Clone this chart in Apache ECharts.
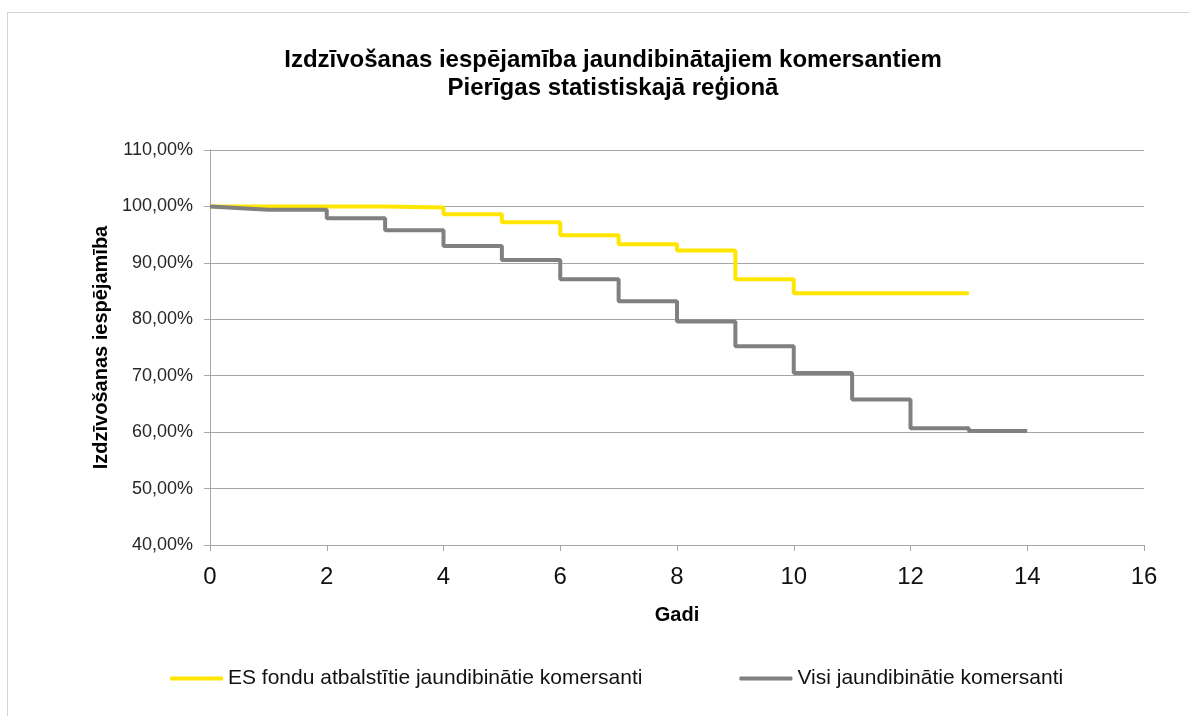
<!DOCTYPE html>
<html>
<head>
<meta charset="utf-8">
<script src="https://cdn.jsdelivr.net/npm/echarts@6/dist/echarts.min.js"></script>
<style>
    html, body { margin: 0; padding: 0; background: #fff; }
    .frame {
        position: absolute;
        left: 7px;
        top: 12px;
        width: 1300px;
        height: 800px;
        border: 1px solid #d4d4d4;
    }
    #chart { position: absolute; left: 0; top: 0; width: 1189px; height: 716px; }
</style>
</head>
<body>
<div class="frame"></div>
<div id="chart"></div>
<script>
// gadi (0..14)
var years = [0, 1, 2, 3, 4, 5, 6, 7, 8, 9, 10, 11, 12, 13, 14];
// ES fondu atbalstītie jaundibinātie komersanti, %, gadi 0..13
var esFondi = [100, 100, 100, 99.8, 98.6, 97.2, 94.9, 93.3, 92.2, 87.1, 84.6, 84.6, 84.6, 84.6];
// Visi jaundibinātie komersanti, %, gadi 0..14
var visi = [100, 99.4, 97.9, 95.8, 93.0, 90.5, 87.1, 83.2, 79.6, 75.2, 70.5, 65.8, 60.7, 60.2, 60.2];
var seriesNames = ['ES fondu atbalstītie jaundibinātie komersanti', 'Visi jaundibinātie komersanti'];
var yTicks = [40, 50, 60, 70, 80, 90, 100, 110];

// Excel scatter-style steps: first segment straight, then flat + vertical drop
function steps(vals) {
    var pts = [[years[0], vals[0]], [years[1], vals[1]]];
    for (var i = 2; i < vals.length; i++) {
        pts.push([years[i], vals[i - 1]]);
        pts.push([years[i], vals[i]]);
    }
    return pts;
}

var font = '"Liberation Sans", Arial, sans-serif';
var chart = echarts.init(document.getElementById('chart'));
var option = {
    animation: false,
    textStyle: { fontFamily: font },
    color: ['#FFE600', '#808080'],
    title: {
        text: 'Izdzīvošanas iespējamība jaundibinātajiem komersantiem\nPierīgas statistiskajā reģionā',
        left: 613,
        top: 46,
        padding: 0,
        textAlign: 'center',
        textStyle: {
            fontFamily: font,
            fontSize: 24,
            fontWeight: 'bold',
            color: '#000',
            lineHeight: 28
        }
    },
    legend: {
        left: 170,
        top: 668,
        padding: 0,
        itemWidth: 53,
        itemHeight: 4,
        itemGap: 97,
        icon: 'roundRect',
        data: seriesNames,
        textStyle: { fontFamily: font, fontSize: 21, color: '#111' }
    },
    grid: {
        left: 210,
        right: 45,
        top: 150,
        bottom: 171,
        containLabel: false
    },
    xAxis: {
        type: 'value',
        min: 0,
        max: 16,
        interval: 2,
        name: 'Gadi',
        nameLocation: 'middle',
        nameGap: 60,
        nameTextStyle: { fontFamily: font, fontSize: 20, fontWeight: 'bold', color: '#000' },
        axisLine: { show: true, lineStyle: { color: '#a6a6a6', width: 1 } },
        axisTick: { show: true, length: 6, lineStyle: { color: '#a6a6a6' } },
        axisLabel: { margin: 20, fontSize: 24, color: '#111', fontFamily: font },
        splitLine: { show: false }
    },
    yAxis: {
        type: 'value',
        min: yTicks[0],
        max: yTicks[yTicks.length - 1],
        interval: 10,
        name: 'Izdzīvošanas iespējamība',
        nameLocation: 'middle',
        nameRotate: 90,
        nameGap: 97,
        nameTextStyle: { fontFamily: font, fontSize: 20, fontWeight: 'bold', color: '#000' },
        axisLine: { show: true, lineStyle: { color: '#a6a6a6', width: 1 } },
        axisTick: { show: true, length: 6, lineStyle: { color: '#a6a6a6' } },
        axisLabel: {
            margin: 17,
            fontSize: 18,
            color: '#262626',
            fontFamily: font,
            formatter: function (v) { return v.toFixed(2).replace('.', ',') + '%'; }
        },
        splitLine: { show: true, lineStyle: { color: '#a6a6a6', width: 1 } }
    },
    series: [
        {
            name: seriesNames[0],
            type: 'line',
            data: steps(esFondi),
            showSymbol: false,
            symbol: 'none',
            lineStyle: { width: 4, color: '#FFE600' }
        },
        {
            name: seriesNames[1],
            type: 'line',
            data: steps(visi),
            showSymbol: false,
            symbol: 'none',
            lineStyle: { width: 4, color: '#808080' }
        }
    ]
};
chart.setOption(option);
</script>
</body>
</html>
